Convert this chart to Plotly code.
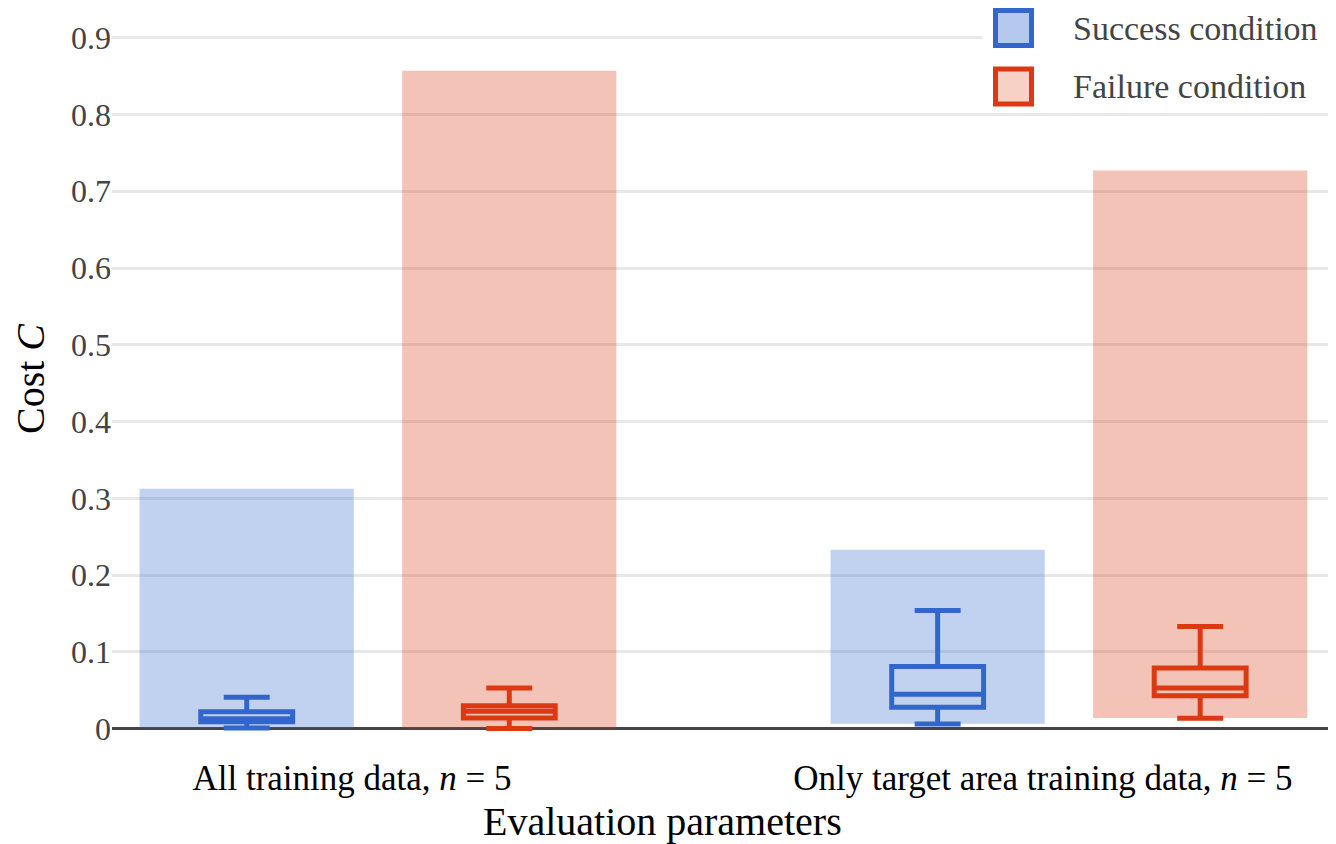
import plotly.graph_objects as go

# % Data
categories = [
    "All training data, <i>n</i> = 5",
    "Only target area training data, <i>n</i> = 5",
]

# full range of the cost per condition (shaded bars)
success_min = [0.0005, 0.0065]
success_max = [0.3125, 0.233]
failure_min = [0.0003, 0.014]
failure_max = [0.857, 0.727]

# box statistics per condition
success_lower = [0.001, 0.006]
success_q1 = [0.009, 0.028]
success_median = [0.013, 0.045]
success_q3 = [0.022, 0.081]
success_upper = [0.041, 0.154]

failure_lower = [0.0003, 0.0135]
failure_q1 = [0.014, 0.043]
failure_median = [0.0226, 0.053]
failure_q3 = [0.030, 0.079]
failure_upper = [0.053, 0.133]

# % Layout helpers (page has an 8px body margin)
OFF = 8
W, H = 1328, 836
ML, MR, MT, MB = 104, 8, 19, 113
FONT = "Liberation Serif, Times New Roman, serif"
BLUE = "#3366CC"
RED = "#DC3912"
SHIFT = 0.19  # offset of each condition from the group centre
BAR_W = 0.31
BOX_W = 0.133


def px(x):
    # screen pixel -> paper x
    return (x - OFF - ML) / (W - ML - MR)


def py(y):
    # screen pixel -> paper y
    return (H - MB - (y - OFF)) / (H - MT - MB)


idx = list(range(len(categories)))
fig = go.Figure()

for sign, color, vmin, vmax in [
    (-1, BLUE, success_min, success_max),
    (1, RED, failure_min, failure_max),
]:
    fig.add_trace(
        go.Bar(
            x=[i + sign * SHIFT for i in idx],
            y=[hi - lo for lo, hi in zip(vmin, vmax)],
            base=vmin,
            width=BAR_W,
            marker=dict(color=color, line=dict(width=0)),
            opacity=0.3,
            showlegend=False,
            hoverinfo="skip",
        )
    )

for sign, color, lf, q1, med, q3, uf in [
    (-1, BLUE, success_lower, success_q1, success_median, success_q3, success_upper),
    (1, RED, failure_lower, failure_q1, failure_median, failure_q3, failure_upper),
]:
    fig.add_trace(
        go.Box(
            x=[i + sign * SHIFT for i in idx],
            lowerfence=lf,
            q1=q1,
            median=med,
            q3=q3,
            upperfence=uf,
            width=BOX_W,
            whiskerwidth=0.5,
            line=dict(color=color, width=5),
            fillcolor="rgba(0,0,0,0)",
            boxpoints=False,
            showlegend=False,
        )
    )

# % Hand made legend (large icons like the reference)
shapes = [
    dict(type="rect", xref="paper", yref="paper", x0=px(982), x1=px(1340),
         y0=py(OFF), y1=py(110), fillcolor="white", line=dict(width=0), layer="above"),
]
annotations = []
for name, color, fill, top in [
    ("Success condition", BLUE, "rgba(51,102,204,0.36)", 10.5),
    ("Failure condition", RED, "rgba(220,57,18,0.24)", 69),
]:
    shapes.append(
        dict(type="rect", xref="paper", yref="paper", x0=px(995.5), x1=px(1031.5),
             y0=py(top), y1=py(top + 35), fillcolor=fill,
             line=dict(color=color, width=5), layer="above")
    )
    annotations.append(
        dict(text=name, xref="paper", yref="paper", x=px(1071), y=py(top + 17.5),
             xanchor="left", yanchor="middle", showarrow=False,
             font=dict(family=FONT, size=34, color="#444"))
    )

# x axis title, centred like in the reference
annotations.append(
    dict(text="Evaluation parameters", xref="paper", yref="paper", x=px(662), y=py(821),
         xanchor="center", yanchor="middle", showarrow=False,
         font=dict(family=FONT, size=40, color="black"))
)

fig.update_layout(
    width=W,
    height=H,
    margin=dict(l=ML, r=MR, t=MT, b=MB),
    template="none",
    paper_bgcolor="white",
    plot_bgcolor="white",
    font=dict(family=FONT),
    showlegend=False,
    shapes=shapes,
    annotations=annotations,
    xaxis=dict(
        type="linear",
        range=[-0.385, 1.375],
        tickvals=idx,
        ticktext=categories,
        ticklabelshift=-26,
        ticklabelstandoff=23,
        showgrid=False,
        zeroline=False,
        showline=False,
        ticks="",
        tickfont=dict(family=FONT, size=35, color="black"),
    ),
    yaxis=dict(
        range=[-0.003, 0.914],
        tick0=0,
        dtick=0.1,
        showgrid=True,
        gridcolor="#e8e8e8",
        gridwidth=2.5,
        zeroline=True,
        zerolinecolor="#444",
        zerolinewidth=3,
        ticks="",
        tickfont=dict(family=FONT, size=32, color="#444"),
        title=dict(text="Cost <i>C</i>", font=dict(family=FONT, size=40, color="black"),
                   standoff=20),
    ),
)

fig.write_html("out.html")
